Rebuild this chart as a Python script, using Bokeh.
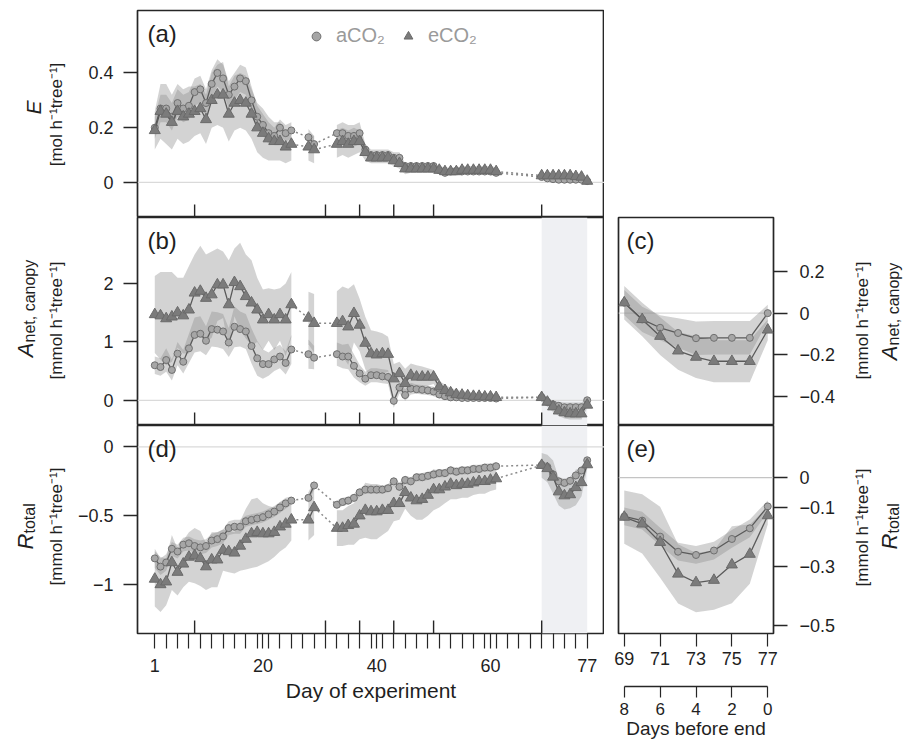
import math
from bokeh.plotting import figure
from bokeh.models import (Range1d, LinearAxis, FixedTicker, Label, Legend, LegendItem,
                          BoxAnnotation, Span)
from bokeh.layouts import row, column
from bokeh.embed import file_html
from bokeh.resources import INLINE

FONT = "Liberation Sans"

# ---------------- data ----------------
segments = [(1, 25), (28, 29), (33, 61), (69, 77)]      # measured day blocks
campaign_days = [8, 31, 37, 43, 50, 69]
x_label_days = [1, 20, 40, 60, 77]
x_minor_days = list(range(3, 77, 2))
end_ticks = [69, 71, 73, 75, 77]
before_end_ticks = [8, 6, 4, 2, 0]

# E  (mol h-1 tree-1)
E_amb = [0.20, 0.27, 0.27, 0.24, 0.29, 0.27, 0.28, 0.33, 0.34, 0.29, 0.36, 0.40, 0.38, 0.32, 0.35, 0.38, 0.37, 0.30, 0.24, 0.21, 0.18, 0.17, 0.20, 0.18, 0.19,
         0.165, 0.14,
         0.18, 0.18, 0.17, 0.17, 0.18, 0.12, 0.10, 0.10, 0.10, 0.10, 0.09, 0.09, 0.06, 0.06, 0.06, 0.06, 0.06, 0.06, 0.045, 0.035, 0.04, 0.042, 0.04, 0.04, 0.04, 0.04, 0.04, 0.04, 0.035,
         0.02, 0.015, 0.012, 0.01, 0.01, 0.01, 0.01, 0.01, 0.005]
E_ele = [0.19, 0.26, 0.25, 0.22, 0.26, 0.24, 0.25, 0.26, 0.27, 0.23, 0.30, 0.32, 0.32, 0.25, 0.29, 0.30, 0.29, 0.25, 0.20, 0.18, 0.16, 0.15, 0.15, 0.13, 0.14,
         0.13, 0.12,
         0.14, 0.15, 0.14, 0.15, 0.15, 0.11, 0.09, 0.09, 0.09, 0.09, 0.08, 0.07, 0.05, 0.05, 0.05, 0.05, 0.05, 0.05, 0.045, 0.04, 0.04, 0.04, 0.045, 0.045, 0.045, 0.045, 0.045, 0.045, 0.04,
         0.025, 0.025, 0.025, 0.025, 0.025, 0.025, 0.022, 0.02, 0.005]
E_amb_se = [0.04, 0.05, 0.05, 0.05, 0.05, 0.05, 0.05, 0.05, 0.05, 0.05, 0.05, 0.05, 0.05, 0.05, 0.05, 0.05, 0.05, 0.05, 0.04, 0.04, 0.04, 0.03, 0.03, 0.03, 0.03,
            0.03, 0.03,
            0.03, 0.04, 0.04, 0.04, 0.04, 0.02, 0.02, 0.02, 0.02, 0.02, 0.02, 0.02, 0.01, 0.01, 0.01, 0.01, 0.01, 0.01, 0.01, 0.01, 0.01, 0.01, 0.01, 0.01, 0.01, 0.01, 0.01, 0.01, 0.01,
            0.005, 0.005, 0.005, 0.005, 0.005, 0.005, 0.005, 0.005, 0.005]
E_ele_se = [0.07, 0.10, 0.11, 0.10, 0.10, 0.10, 0.10, 0.09, 0.09, 0.09, 0.10, 0.11, 0.12, 0.10, 0.10, 0.10, 0.10, 0.09, 0.09, 0.09, 0.08, 0.07, 0.07, 0.06, 0.06,
            0.05, 0.05,
            0.05, 0.05, 0.05, 0.05, 0.04, 0.03, 0.02, 0.02, 0.02, 0.02, 0.02, 0.02, 0.02, 0.015, 0.015, 0.015, 0.015, 0.015, 0.015, 0.015, 0.015, 0.015, 0.015, 0.015, 0.015, 0.015, 0.015, 0.015, 0.015,
            0.01, 0.01, 0.01, 0.01, 0.01, 0.01, 0.01, 0.01, 0.01]

# A_net,canopy  (mmol h-1 tree-1)
A_amb = [0.60, 0.57, 0.69, 0.52, 0.80, 0.66, 0.89, 1.12, 1.14, 1.02, 1.22, 1.21, 1.18, 0.99, 1.26, 1.22, 1.18, 0.93, 0.72, 0.62, 0.62, 0.70, 0.75, 0.64, 0.87,
         0.79, 0.73,
         0.79, 0.75, 0.75, 0.59, 0.46, 0.37, 0.43, 0.43, 0.41, 0.40, -0.01, 0.22, 0.09, 0.20, 0.19, 0.18, 0.17, 0.15, 0.10, 0.07, 0.05, 0.05, 0.04, 0.04, 0.04, 0.04, 0.04, 0.04, 0.03,
         0.05, -0.03, -0.07, -0.095, -0.12, -0.118, -0.118, -0.118, 0.0]
A_ele = [1.47, 1.45, 1.40, 1.43, 1.50, 1.45, 1.55, 1.84, 1.87, 1.75, 1.81, 1.98, 1.98, 1.64, 2.02, 1.95, 1.78, 1.67, 1.55, 1.38, 1.47, 1.38, 1.47, 1.38, 1.64,
         1.41, 1.32,
         1.32, 1.35, 1.26, 1.49, 1.29, 0.98, 0.80, 0.78, 0.80, 0.79, 0.37, 0.46, 0.29, 0.43, 0.40, 0.40, 0.40, 0.40, 0.23, 0.17, 0.13, 0.10, 0.09, 0.08, 0.07, 0.07, 0.06, 0.06, 0.05,
         0.05, -0.03, -0.11, -0.18, -0.21, -0.23, -0.23, -0.23, -0.08]
A_amb_se = [0.15, 0.15, 0.20, 0.18, 0.20, 0.20, 0.25, 0.30, 0.30, 0.25, 0.30, 0.30, 0.30, 0.25, 0.35, 0.30, 0.30, 0.30, 0.30, 0.25, 0.20, 0.20, 0.20, 0.20, 0.25,
            0.25, 0.20,
            0.20, 0.20, 0.22, 0.20, 0.15, 0.12, 0.12, 0.12, 0.12, 0.12, 0.12, 0.10, 0.10, 0.10, 0.08, 0.08, 0.08, 0.08, 0.07, 0.06, 0.06, 0.05, 0.05, 0.05, 0.05, 0.05, 0.05, 0.05, 0.05,
            0.06, 0.06, 0.06, 0.07, 0.08, 0.08, 0.08, 0.08, 0.04]
A_ele_se = [0.66, 0.75, 0.80, 0.77, 0.60, 0.65, 0.75, 0.66, 0.78, 0.75, 0.74, 0.62, 0.57, 0.76, 0.58, 0.75, 0.72, 0.73, 0.55, 0.52, 0.45, 0.52, 0.45, 0.62, 0.56,
            0.45, 0.50,
            0.55, 0.60, 0.65, 0.50, 0.45, 0.45, 0.40, 0.40, 0.35, 0.30, 0.25, 0.20, 0.25, 0.20, 0.20, 0.18, 0.15, 0.12, 0.10, 0.10, 0.08, 0.08, 0.07, 0.07, 0.06, 0.06, 0.06, 0.06, 0.05,
            0.08, 0.08, 0.09, 0.09, 0.10, 0.10, 0.10, 0.10, 0.05]

# R_total  (mmol h-1 tree-1)
R_amb = [-0.81, -0.87, -0.84, -0.74, -0.76, -0.71, -0.70, -0.72, -0.73, -0.72, -0.68, -0.67, -0.65, -0.59, -0.58, -0.58, -0.54, -0.53, -0.52, -0.51, -0.49, -0.47, -0.44, -0.41, -0.39,
         -0.37, -0.28,
         -0.42, -0.40, -0.39, -0.37, -0.33, -0.31, -0.31, -0.31, -0.31, -0.30, -0.25, -0.29, -0.24, -0.25, -0.22, -0.22, -0.21, -0.20, -0.19, -0.19, -0.17, -0.18, -0.17, -0.17, -0.16, -0.16, -0.15, -0.15, -0.14,
         -0.131, -0.145, -0.199, -0.25, -0.261, -0.246, -0.207, -0.171, -0.097]
R_ele = [-0.96, -1.00, -0.98, -0.84, -0.91, -0.85, -0.80, -0.79, -0.81, -0.87, -0.82, -0.82, -0.75, -0.76, -0.77, -0.72, -0.67, -0.63, -0.62, -0.63, -0.63, -0.62, -0.58, -0.56, -0.53,
         -0.53, -0.44,
         -0.59, -0.59, -0.57, -0.56, -0.50, -0.46, -0.47, -0.47, -0.46, -0.46, -0.41, -0.41, -0.33, -0.37, -0.39, -0.38, -0.35, -0.31, -0.31, -0.29, -0.27, -0.28, -0.27, -0.27, -0.26, -0.25, -0.25, -0.24, -0.23,
         -0.133, -0.156, -0.218, -0.325, -0.354, -0.346, -0.294, -0.258, -0.128]
R_amb_se = [0.07, 0.06, 0.06, 0.05, 0.05, 0.05, 0.05, 0.05, 0.05, 0.05, 0.05, 0.05, 0.05, 0.05, 0.05, 0.05, 0.04, 0.04, 0.04, 0.04, 0.04, 0.04, 0.04, 0.04, 0.03,
            0.04, 0.03,
            0.03, 0.03, 0.03, 0.03, 0.03, 0.03, 0.03, 0.03, 0.03, 0.03, 0.03, 0.03, 0.03, 0.03, 0.03, 0.03, 0.03, 0.03, 0.03, 0.03, 0.03, 0.03, 0.03, 0.03, 0.03, 0.03, 0.03, 0.03, 0.03,
            0.03, 0.03, 0.03, 0.03, 0.03, 0.03, 0.03, 0.03, 0.02]
R_ele_se = [0.20, 0.20, 0.17, 0.20, 0.17, 0.17, 0.18, 0.20, 0.20, 0.17, 0.20, 0.20, 0.15, 0.15, 0.15, 0.18, 0.22, 0.25, 0.25, 0.22, 0.20, 0.18, 0.18, 0.17, 0.15,
            0.15, 0.20,
            0.13, 0.13, 0.14, 0.15, 0.17, 0.20, 0.20, 0.20, 0.18, 0.15, 0.13, 0.12, 0.12, 0.13, 0.14, 0.15, 0.15, 0.15, 0.13, 0.12, 0.11, 0.10, 0.10, 0.10, 0.09, 0.09, 0.09, 0.08, 0.08,
            0.09, 0.10, 0.12, 0.10, 0.10, 0.10, 0.13, 0.10, 0.03]

# axis limits (before R's 4 % expansion) and ticks
E_lim, E_ticks = (-0.1, 0.6), [0, 0.2, 0.4]
A_lim, A_ticks = (-0.3, 3.0), [0, 1, 2]
R_lim, R_ticks = (-1.3, 0.1), [0, -0.5, -1]
Ac_lim, Ac_ticks = (-0.5, 0.42), [0.2, 0, -0.2, -0.4]
Re_lim, Re_ticks = (-0.5, 0.15), [0, -0.1, -0.3, -0.5]

# ---------------- style ----------------
INK = "#262626"
TXT = "#1f1f1f"
BAND = "#8c8c8c"
BAND_ALPHA = 0.38
LINE = "#5a5a5a"
DOT = "#8a8a8a"
AMB_FILL, AMB_LINE = "#a6a6a6", "#6f6f6f"
ELE_FILL, ELE_LINE = "#7b7b7b", "#6a6a6a"
SHADE = "#eff0f3"
ZERO = "#dadada"
TICK_FS = "18px"


def expand(lim):
    pad = 0.04 * (lim[1] - lim[0])
    return lim[0] - pad, lim[1] + pad


def seg_slices():
    out, i = [], 0
    for a, b in segments:
        n = b - a + 1
        out.append((list(range(a, b + 1)), i, i + n))
        i += n
    return out


SEGS = seg_slices()


def draw_band(p, vals, se, sel):
    for k in sel:
        d, i0, i1 = SEGS[k]
        v, s = vals[i0:i1], se[i0:i1]
        p.varea(x=d, y1=[a - b for a, b in zip(v, s)], y2=[a + b for a, b in zip(v, s)],
                fill_color=BAND, fill_alpha=BAND_ALPHA)


def draw_lines(p, vals, kind, sel):
    for k in sel:
        d, i0, i1 = SEGS[k]
        p.line(d, vals[i0:i1], line_color=LINE, line_width=1.3)
    xs, ys = [], []
    for k0, k1 in zip(sel[:-1], sel[1:]):
        d0, a0, b0 = SEGS[k0]
        d1, a1, b1 = SEGS[k1]
        xs.append([d0[-1], d1[0]])
        ys.append([vals[b0 - 1], vals[a1]])
    if xs:
        p.multi_line(xs, ys, line_color=DOT, line_width=1.5, line_dash="2 3")
    dd, vv = [], []
    for k in sel:
        d, i0, i1 = SEGS[k]
        dd += d
        vv += vals[i0:i1]
    if kind == "amb":
        return p.scatter(dd, vv, marker="circle", size=7, fill_color=AMB_FILL, line_color=AMB_LINE, line_width=1)
    return p.scatter(dd, vv, marker="triangle", size=11, fill_color=ELE_FILL, line_color=ELE_LINE, line_width=1)


def yaxis(ticks, standoff, overrides=None):
    return LinearAxis(ticker=FixedTicker(ticks=ticks, minor_ticks=[]),
                      major_label_overrides=overrides or {},
                      axis_line_color=None, major_tick_out=14, major_tick_in=0,
                      minor_tick_out=0, minor_tick_in=0,
                      major_tick_line_color=INK, major_tick_line_width=1.3,
                      major_label_text_font=FONT, major_label_text_font_size=TICK_FS,
                      major_label_text_color=TXT, major_label_standoff=standoff)


def lab(p, text, x, y, size, angle=0.0, align="center", baseline="middle", style="normal", color=TXT):
    p.add_layout(Label(x=x, y=y, x_units="screen", y_units="screen", text=text,
                       angle=angle, text_font=FONT, text_font_size=size,
                       text_font_style=style, text_align=align, text_baseline=baseline,
                       text_color=color))


# ---------------- geometry (page px) ----------------
LAB_L_W = 70                    # left label strip
LEFT_W, LF_L, LF_W = 534, 67, 467
RIGHT_W, RF_L, RF_W = 235, 14, 155
LAB_R_W = 68                    # right label strip
FH = 208
TOTAL_H = 743
RX0 = LAB_L_W + LEFT_W + RIGHT_W   # left edge of right label strip

all_days = [d for a, b in segments for d in range(a, b + 1)]
xpad = 0.04 * (all_days[-1] - all_days[0])
X_LEFT = (all_days[0] - xpad, all_days[-1] + xpad)
last = list(range(segments[-1][0], segments[-1][1] + 1))
xpad_r = 0.04 * (last[-1] - last[0])
X_RIGHT = (last[0] - xpad_r, last[-1] + xpad_r)


def left_fig(lim, height, top, bottom):
    return figure(width=LEFT_W, height=height, x_range=Range1d(*X_LEFT), y_range=Range1d(*expand(lim)),
                  x_axis_type=None, y_axis_type=None, output_backend="svg", toolbar_location=None,
                  min_border_left=LF_L, min_border_right=0, min_border_top=top, min_border_bottom=bottom,
                  outline_line_color=INK, outline_line_width=1.7)


def right_fig(lim, height, top, bottom):
    return figure(width=RIGHT_W, height=height, x_range=Range1d(*X_RIGHT), y_range=Range1d(*expand(lim)),
                  x_axis_type=None, y_axis_type=None, output_backend="svg", toolbar_location=None,
                  min_border_left=RF_L, min_border_right=RIGHT_W - RF_L - RF_W, min_border_top=top,
                  min_border_bottom=bottom, outline_line_color=INK, outline_line_width=1.7)


def strip_fig(width):
    return figure(width=width, height=TOTAL_H, x_range=Range1d(0, width), y_range=Range1d(0, TOTAL_H),
                  x_axis_type=None, y_axis_type=None, output_backend="svg", toolbar_location=None,
                  min_border_left=0, min_border_right=0, min_border_top=0, min_border_bottom=0,
                  outline_line_color=None)


def campaign_ticks(p, lim):
    y0, y1 = expand(lim)
    h = (y1 - y0) * 13.0 / FH
    p.segment(x0=campaign_days, x1=campaign_days, y0=[y0] * len(campaign_days),
              y1=[y0 + h] * len(campaign_days), line_color=INK, line_width=1.4)


def zero(p, color=ZERO):
    p.add_layout(Span(location=0, dimension="width", line_color=color, line_width=1.2, level="underlay"))


def shade(p):
    p.add_layout(BoxAnnotation(left=segments[-1][0], right=segments[-1][1], fill_color=SHADE,
                               fill_alpha=1.0, line_color=None, level="underlay"))


ALL = [0, 1, 2, 3]
LAST = [3]
minus = {-0.5: "\u22120.5", -1: "\u22121", -0.1: "\u22120.1", -0.3: "\u22120.3", -0.2: "\u22120.2", -0.4: "\u22120.4"}
UNIT_MOL = "[mol h\u207b\u00b9tree\u207b\u00b9]"
UNIT_MMOL = "[mmol h\u207b\u00b9tree\u207b\u00b9]"
UP = math.pi / 2

# ----- (a) E -----
pa = left_fig(E_lim, 10 + 207, 10, 0)
zero(pa)
draw_band(pa, E_amb, E_amb_se, ALL)
draw_band(pa, E_ele, E_ele_se, ALL)
ra = draw_lines(pa, E_amb, "amb", ALL)
re = draw_lines(pa, E_ele, "ele", ALL)
campaign_ticks(pa, E_lim)
pa.add_layout(yaxis(E_ticks, 10), "left")
leg = Legend(items=[LegendItem(label="aCO\u2082", renderers=[ra]), LegendItem(label="eCO\u2082", renderers=[re])],
             orientation="horizontal", location=(168, 170), border_line_color=None,
             background_fill_alpha=0.0, label_text_color="#9a9a9a", label_text_font=FONT,
             label_text_font_size="20px", glyph_width=22, glyph_height=22, label_standoff=9,
             spacing=12, padding=0, margin=0)
pa.add_layout(leg)
lab(pa, "(a)", 10, 207 - 9, "24px", align="left", baseline="top")

# ----- (b) A_net,canopy -----
pb = left_fig(A_lim, FH, 0, 0)
shade(pb)
zero(pb)
draw_band(pb, A_amb, A_amb_se, ALL)
draw_band(pb, A_ele, A_ele_se, ALL)
draw_lines(pb, A_amb, "amb", ALL)
draw_lines(pb, A_ele, "ele", ALL)
campaign_ticks(pb, A_lim)
pb.add_layout(yaxis(A_ticks, 10), "left")
lab(pb, "(b)", 10, FH - 9, "24px", align="left", baseline="top")

# ----- (d) R_total -----
pd_ = left_fig(R_lim, FH + 110, 0, 110)
shade(pd_)
zero(pd_)
draw_band(pd_, R_amb, R_amb_se, ALL)
draw_band(pd_, R_ele, R_ele_se, ALL)
draw_lines(pd_, R_amb, "amb", ALL)
draw_lines(pd_, R_ele, "ele", ALL)
campaign_ticks(pd_, R_lim)
pd_.add_layout(yaxis(R_ticks, 10, minus), "left")
xa = LinearAxis(ticker=FixedTicker(ticks=x_label_days, minor_ticks=x_minor_days),
                bounds=(x_label_days[0], x_label_days[-1]), axis_line_color=None,
                major_tick_out=15, major_tick_in=0, minor_tick_out=15, minor_tick_in=0,
                major_tick_line_color=INK, minor_tick_line_color=INK,
                major_tick_line_width=1.2, minor_tick_line_width=1.2,
                major_label_text_font=FONT, major_label_text_font_size=TICK_FS,
                major_label_text_color=TXT, major_label_standoff=10,
                axis_label="Day of experiment", axis_label_text_font=FONT,
                axis_label_text_font_size="21px", axis_label_text_font_style="normal",
                axis_label_text_color=TXT, axis_label_standoff=4)
pd_.add_layout(xa, "below")
lab(pd_, "(d)", 10, FH - 9, "24px", align="left", baseline="top")

# ----- (c) A_net,canopy last days -----
pc = right_fig(Ac_lim, 217 + FH, 217, 0)
zero(pc)
draw_band(pc, A_amb, A_amb_se, LAST)
draw_band(pc, A_ele, A_ele_se, LAST)
draw_lines(pc, A_amb, "amb", LAST)
draw_lines(pc, A_ele, "ele", LAST)
pc.add_layout(yaxis(Ac_ticks, 12, minus), "right")
lab(pc, "(c)", 8, FH - 9, "24px", align="left", baseline="top")

# ----- (e) R_total last days -----
pe = right_fig(Re_lim, FH + 52, 0, 52)
zero(pe, "#c4c4c4")
draw_band(pe, R_amb, R_amb_se, LAST)
draw_band(pe, R_ele, R_ele_se, LAST)
draw_lines(pe, R_amb, "amb", LAST)
draw_lines(pe, R_ele, "ele", LAST)
pe.add_layout(yaxis(Re_ticks, 12, minus), "right")
ea = LinearAxis(ticker=FixedTicker(ticks=end_ticks, minor_ticks=[]), bounds=(end_ticks[0], end_ticks[-1]),
                axis_line_color=None, major_tick_out=13, major_tick_in=0, minor_tick_out=0, minor_tick_in=0,
                major_tick_line_color=INK, major_tick_line_width=1.2,
                major_label_text_font=FONT, major_label_text_font_size=TICK_FS,
                major_label_text_color=TXT, major_label_standoff=5)
pe.add_layout(ea, "below")
lab(pe, "(e)", 8, FH - 9, "24px", align="left", baseline="top")

# ----- "Days before end" axis -----
dbe = (last[-1] - X_RIGHT[0], last[-1] - X_RIGHT[1])
pt = figure(width=RIGHT_W, height=59, x_range=Range1d(*dbe), y_range=Range1d(0, 1),
            x_axis_type=None, y_axis_type=None, output_backend="svg", toolbar_location=None,
            min_border_left=RF_L, min_border_right=RIGHT_W - RF_L - RF_W, min_border_top=0,
            min_border_bottom=58, outline_line_color=None)
ta = LinearAxis(ticker=FixedTicker(ticks=before_end_ticks, minor_ticks=[]),
                bounds=(min(before_end_ticks), max(before_end_ticks)),
                axis_line_color=INK, axis_line_width=1.3, major_tick_out=11, major_tick_in=0,
                minor_tick_out=0, minor_tick_in=0, major_tick_line_color=INK, major_tick_line_width=1.2,
                major_label_text_font=FONT, major_label_text_font_size="17px",
                major_label_text_color=TXT, major_label_standoff=5,
                axis_label="Days before end", axis_label_text_font=FONT,
                axis_label_text_font_size="19px", axis_label_text_font_style="normal",
                axis_label_text_color=TXT, axis_label_standoff=0)
pt.add_layout(ta, "below")

# ----- y-axis titles (label strips) -----
L = strip_fig(LAB_L_W)
H = TOTAL_H
lab(L, "E", 33, H - 107, "21px", angle=UP, baseline="alphabetic", style="italic")
lab(L, UNIT_MOL, 56, H - 114, "17px", angle=UP)
lab(L, "A", 25, H - 342, "22px", angle=UP, align="right", baseline="alphabetic", style="italic")
lab(L, "net, canopy", 29, H - 342, "16px", angle=UP, align="left", baseline="alphabetic")
lab(L, UNIT_MMOL, 56, H - 320, "17px", angle=UP)
lab(L, "R", 25, H - 533, "22px", angle=UP, align="right", baseline="alphabetic", style="italic")
lab(L, "total", 29, H - 533, "16px", angle=UP, align="left", baseline="alphabetic")
lab(L, UNIT_MMOL, 56, H - 526, "17px", angle=UP)

R = strip_fig(LAB_R_W)
lab(R, UNIT_MMOL, 862 - RX0, H - 320, "17px", angle=UP)
lab(R, "A", 889 - RX0, H - 345, "22px", angle=UP, align="right", baseline="alphabetic", style="italic")
lab(R, "net, canopy", 893 - RX0, H - 345, "16px", angle=UP, align="left", baseline="alphabetic")
lab(R, UNIT_MMOL, 862 - RX0, H - 527, "17px", angle=UP)
lab(R, "R", 889 - RX0, H - 533, "22px", angle=UP, align="right", baseline="alphabetic", style="italic")
lab(R, "total", 893 - RX0, H - 533, "16px", angle=UP, align="left", baseline="alphabetic")

layout = row(L, column(pa, pb, pd_), column(pc, pe, pt), R)
open("out.html", "w").write(file_html(layout, INLINE))
